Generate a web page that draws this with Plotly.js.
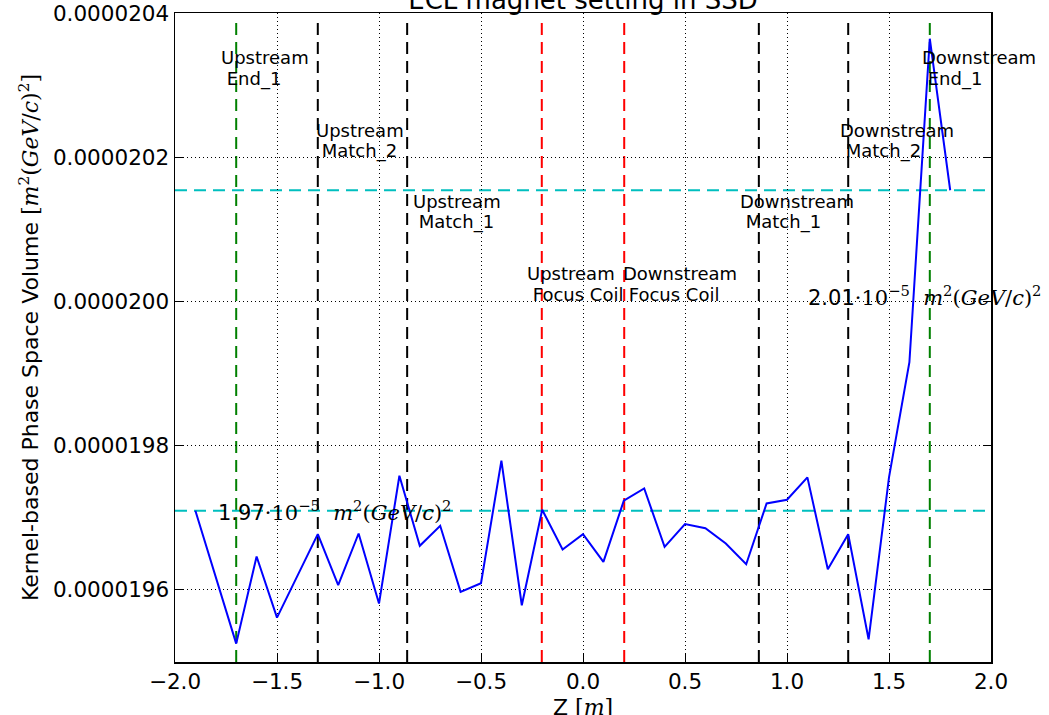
<!DOCTYPE html>
<html>
<head>
<meta charset="utf-8">
<script src="https://cdn.plot.ly/plotly-3.0.1.min.js"></script>
<style>
  html, body { margin: 0; padding: 0; background: #ffffff; }
  #chart { width: 1049px; height: 715px; }
</style>
</head>
<body>
<div id="chart"></div>
<script>
// ---- data ----
const zPositions = [-1.9, -1.7, -1.6, -1.5, -1.3, -1.2, -1.1, -1.0, -0.9, -0.8, -0.7, -0.6, -0.5, -0.4, -0.3, -0.2, -0.1, 0.0, 0.1, 0.2, 0.3, 0.4, 0.5, 0.6, 0.7, 0.8, 0.9, 1.0, 1.1, 1.2, 1.3, 1.4, 1.5, 1.6, 1.7, 1.8];
const volumeE5 = [1.97097, 1.95255, 1.96463, 1.95616, 1.96773, 1.96065, 1.96782, 1.95810, 1.97583, 1.96611, 1.96889, 1.95972, 1.96093, 1.97792, 1.95787, 1.97111, 1.96560, 1.96773, 1.96389, 1.97236, 1.97407, 1.96597, 1.96912, 1.96856, 1.96644, 1.96356, 1.97199, 1.97250, 1.97560, 1.96287, 1.96773, 1.95315, 1.97560, 1.99157, 2.03643, 2.01542];
const volume = volumeE5.map(v => v * 1e-5);

const elementZ = [-1.7, -1.3, -0.862, -0.202, 0.202, 0.862, 1.3, 1.7];
const elementColors = ['#008000', '#000000', '#000000', '#ff0000', '#ff0000', '#000000', '#000000', '#008000'];
const elementLine1 = ['Upstream', 'Upstream', 'Upstream', 'Upstream', 'Downstream', 'Downstream', 'Downstream', 'Downstream'];
const elementLine2 = ['End_1', 'Match_2', 'Match_1', 'Focus Coil', 'Focus Coil', 'Match_1', 'Match_2', 'End_1'];

const referenceValues = [volume[0], volume[volume.length - 1]];
const referenceLabels = ['1.97', '2.01'];

const yTickVals = [0.0000196, 0.0000198, 0.0000200, 0.0000202, 0.0000204];
const yTickText = ['0.0000196', '0.0000198', '0.0000200', '0.0000202', '0.0000204'];
const xTickVals = [-2.0, -1.5, -1.0, -0.5, 0.0, 0.5, 1.0, 1.5, 2.0];

// ---- layout helpers (positions are layout, not data) ----
const labelX = [-1.786, -1.32, -0.842, -0.285, 0.185, 0.76, 1.25, 1.652];
const labelYp = [0.9314, 0.8197, 0.7096, 0.5989, 0.5989, 0.7096, 0.8197, 0.9314];
const lineGap = 21 / 649;

const SANS = 'DejaVu Sans, sans-serif';
const SERIF = 'DejaVu Serif, serif';
const mathUnit = '<span style="font-family:' + SERIF + '">·10<sup>−5</sup>  <i>m</i><sup>2</sup>(<i>GeV</i>/<i>c</i>)<sup>2</sup></span>';

const shapes = [];
elementZ.forEach((z, i) => {
  shapes.push({
    type: 'line', xref: 'x', yref: 'paper', x0: z, x1: z, y0: 0, y1: 0.99,
    line: { color: elementColors[i], width: 2, dash: '12px,7px' }, layer: 'below'
  });
});
referenceValues.forEach(v => {
  shapes.push({
    type: 'line', xref: 'paper', yref: 'y', x0: 0, x1: 1, y0: v, y1: v,
    line: { color: '#00bfbf', width: 2, dash: '12px,7px' }, layer: 'below'
  });
});

const annotations = [];
elementZ.forEach((z, i) => {
  annotations.push({
    xref: 'x', yref: 'paper', x: labelX[i], y: labelYp[i], xanchor: 'left', yanchor: 'middle',
    text: elementLine1[i], showarrow: false, font: { family: SANS, size: 18, color: '#000' }
  });
  annotations.push({
    xref: 'x', yref: 'paper', x: labelX[i], y: labelYp[i] - lineGap, xanchor: 'left', yanchor: 'middle',
    text: '\u00a0' + elementLine2[i], showarrow: false, font: { family: SANS, size: 18, color: '#000' }
  });
});
annotations.push({
  xref: 'x', yref: 'y', x: -1.8, y: referenceValues[0], xanchor: 'left', yanchor: 'middle',
  text: referenceLabels[0] + mathUnit, showarrow: false, font: { family: SANS, size: 21, color: '#000' }
});
annotations.push({
  xref: 'x', yref: 'y', x: 1.095, y: 2.0007e-5, xanchor: 'left', yanchor: 'middle',
  text: referenceLabels[1] + mathUnit, showarrow: false, font: { family: SANS, size: 21, color: '#000' }
});
// x-axis title as annotation for exact placement
annotations.push({
  xref: 'paper', yref: 'paper', x: 0.5, y: -0.0705, xanchor: 'center', yanchor: 'middle',
  text: 'Z <span style="font-family:' + SERIF + '">[<i>m</i>]</span>', showarrow: false,
  font: { family: SANS, size: 22, color: '#000' }
});

const trace = {
  x: zPositions, y: volume, type: 'scatter', mode: 'lines',
  line: { color: '#0000ff', width: 2 }, hoverinfo: 'skip'
};

const layout = {
  width: 1049, height: 715,
  margin: { l: 175, r: 58, t: 13, b: 53, pad: 0 },
  paper_bgcolor: '#ffffff', plot_bgcolor: '#ffffff',
  showlegend: false,
  font: { family: SANS, color: '#000000' },
  title: {
    text: 'ECL magnet setting in SSD',
    font: { family: SANS, size: 26, color: '#000' },
    xref: 'paper', x: 0.5, xanchor: 'center',
    yref: 'container', y: 1.0, yanchor: 'middle'
  },
  xaxis: {
    range: [-2, 2], tickvals: xTickVals, tickformat: '.1f',
    showline: true, linecolor: '#000', linewidth: 1.5, mirror: true,
    ticks: 'inside', ticklen: 8, tickwidth: 1, tickcolor: '#000',
    showgrid: true, gridcolor: '#000', gridwidth: 1, griddash: '1px,3px',
    zeroline: false,
    tickfont: { family: SANS, size: 21.5, color: '#000' },
    automargin: false
  },
  yaxis: {
    range: [1.95e-5, 2.04e-5], tickvals: yTickVals, ticktext: yTickText,
    showline: true, linecolor: '#000', linewidth: 1.5, mirror: 'ticks',
    ticks: 'inside', ticklen: 8, tickwidth: 1, tickcolor: '#000',
    showgrid: true, gridcolor: '#000', gridwidth: 1, griddash: '1px,3px',
    zeroline: false,
    tickfont: { family: SANS, size: 21.5, color: '#000' },
    title: { text: 'Kernel-based Phase Space Volume <span style="font-family:' + SERIF + '">[<i>m</i><sup>2</sup>(<i>GeV</i>/<i>c</i>)<sup>2</sup>]</span>', font: { family: SANS, size: 22, color: '#000' }, standoff: 8 },
    automargin: false
  },
  shapes: shapes,
  annotations: annotations
};

Plotly.newPlot('chart', [trace], layout, { staticPlot: true, displayModeBar: false });
</script>
</body>
</html>
